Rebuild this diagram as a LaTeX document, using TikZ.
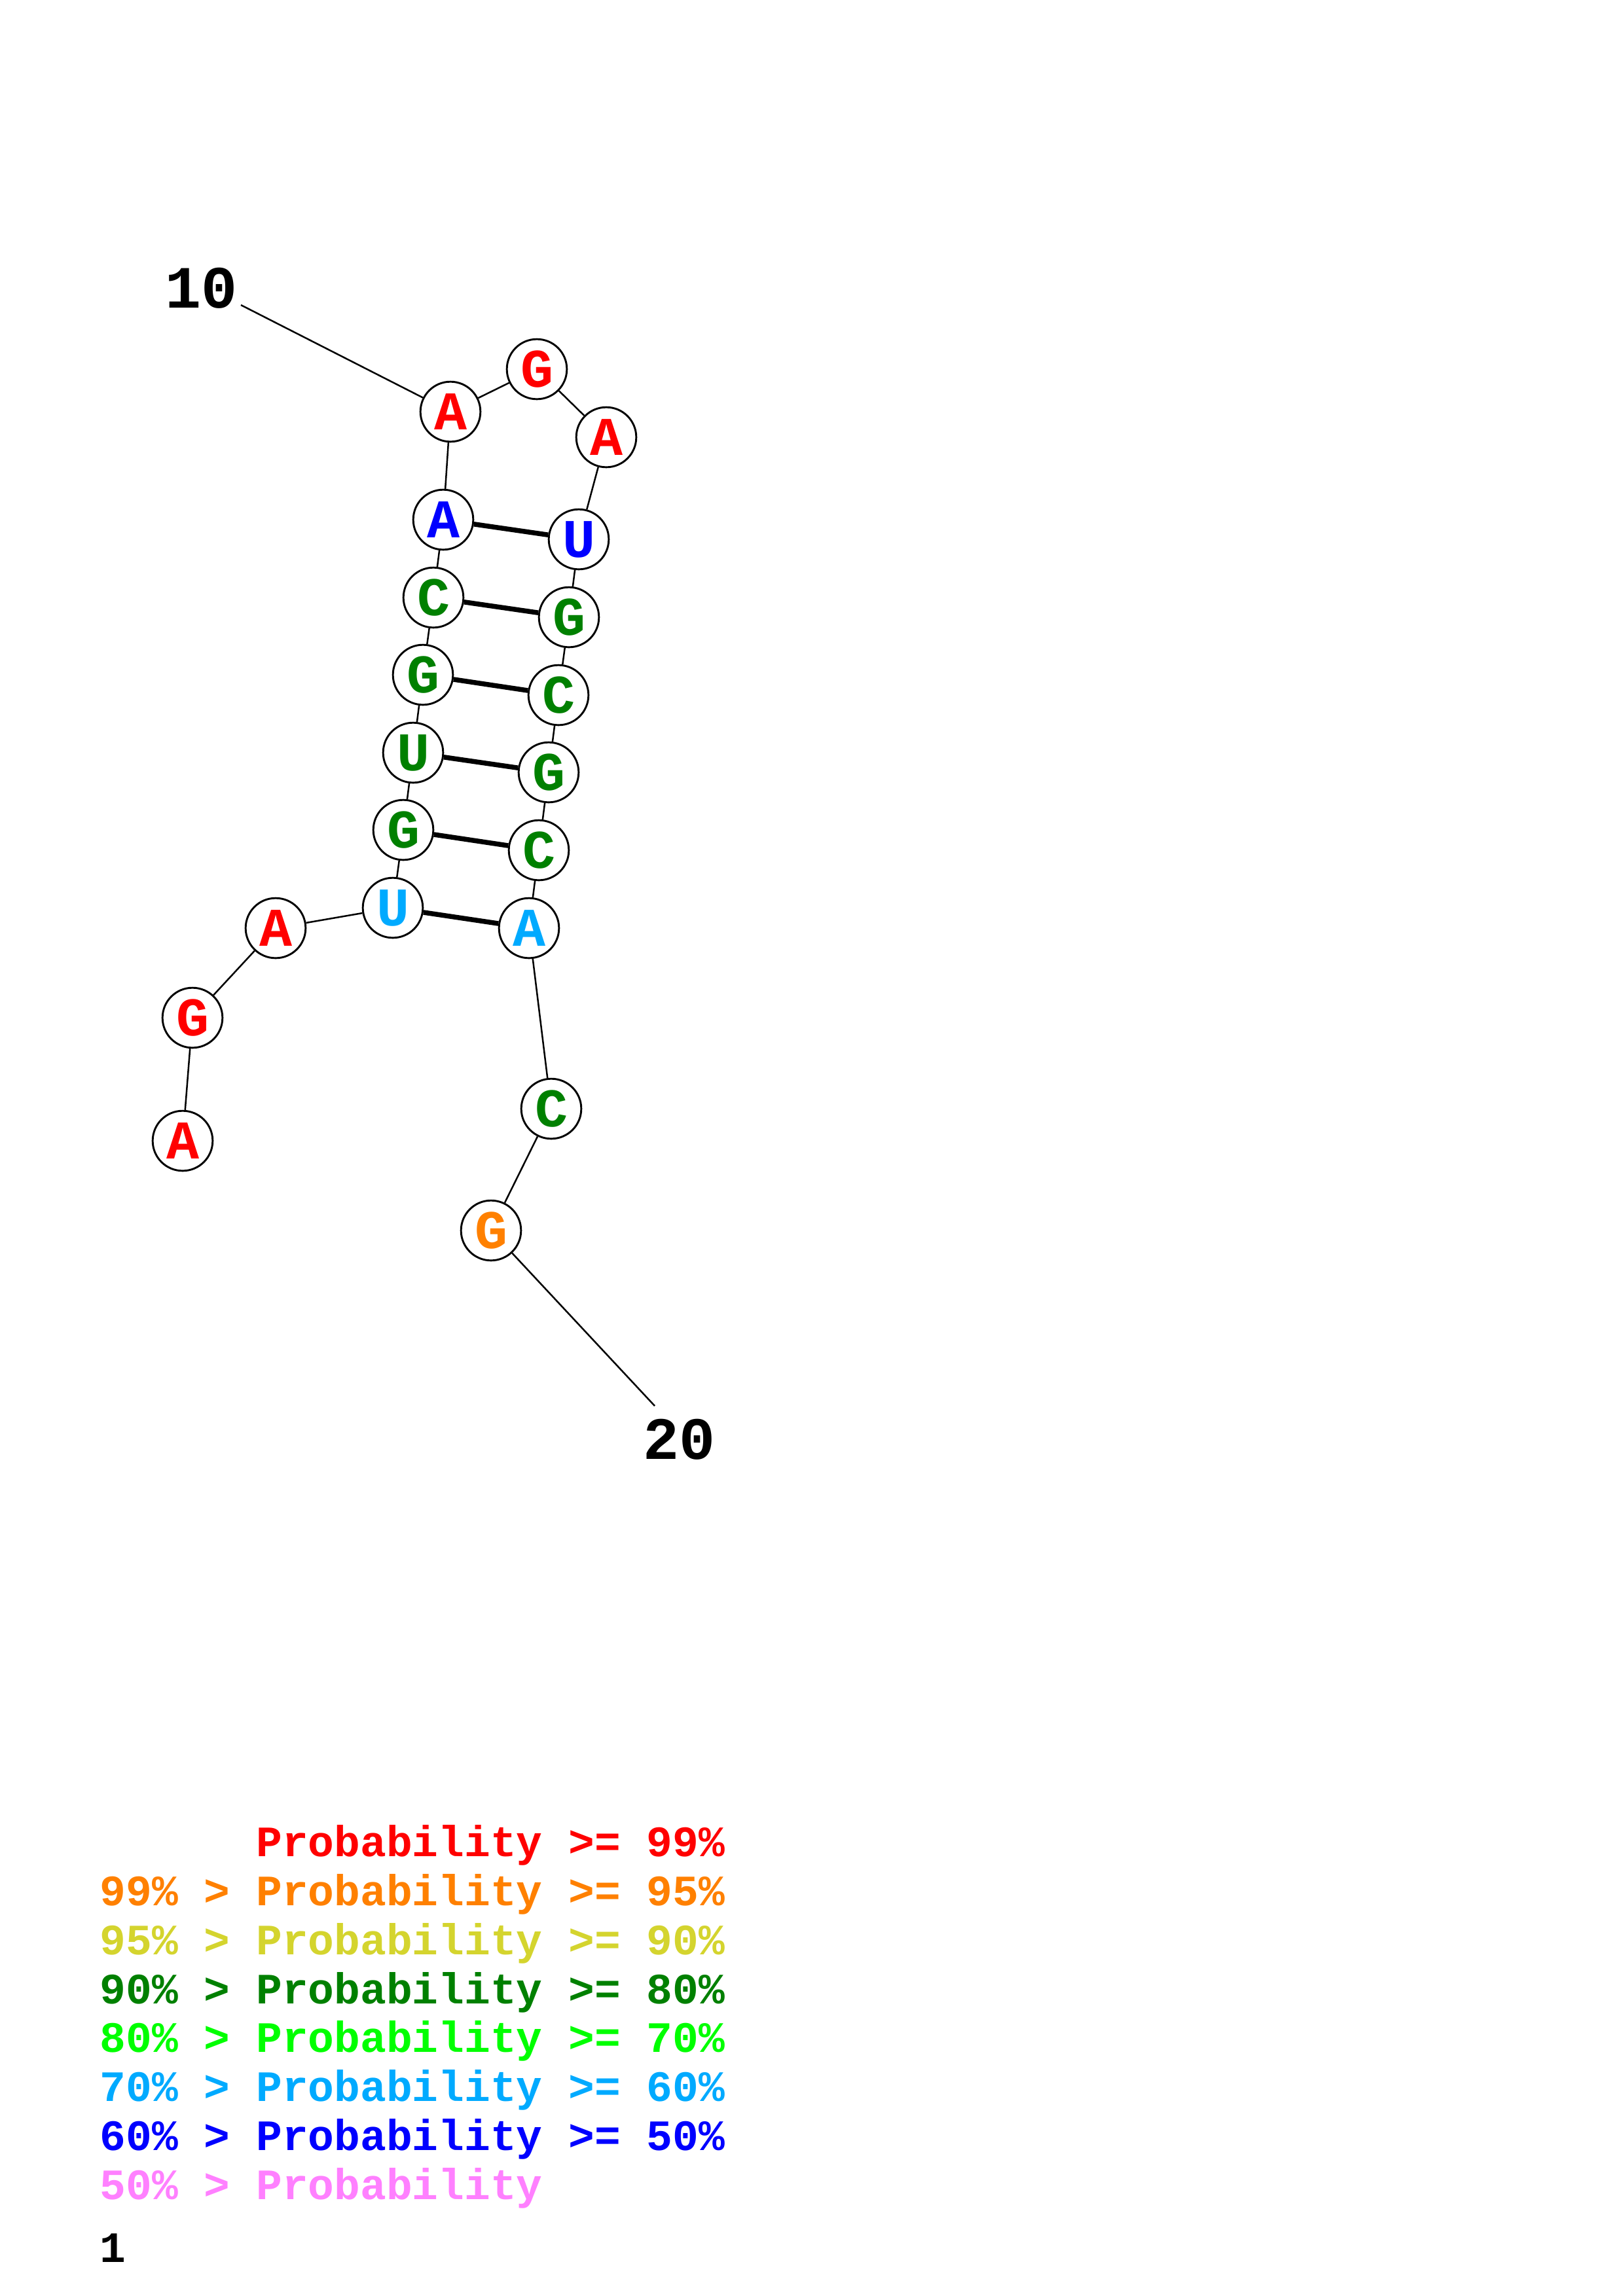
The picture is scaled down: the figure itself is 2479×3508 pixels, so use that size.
\documentclass[tikz,border=0pt]{standalone}
\usepackage{fontspec}
\setmonofont{Liberation Mono}
\definecolor{pred}{RGB}{255,0,0}
\definecolor{porange}{RGB}{255,128,0}
\definecolor{pyellow}{RGB}{212,212,46}
\definecolor{pdkgreen}{RGB}{0,128,0}
\definecolor{pgreen}{RGB}{0,255,0}
\definecolor{plblue}{RGB}{0,170,255}
\definecolor{pblue}{RGB}{0,0,255}
\definecolor{ppink}{RGB}{255,128,255}
\begin{document}
\begin{tikzpicture}[x=0.24002pt,y=-0.24002pt,
  nt/.style={circle,draw=black,line width=0.7pt,fill=white,minimum size=22pt,inner sep=0pt,
    font=\fontsize{20}{20}\selectfont\ttfamily\bfseries},
  bb/.style={line width=0.6pt},
  bp/.style={line width=1.8pt},
  numlab/.style={font=\fontsize{22}{22}\selectfont\ttfamily\bfseries,inner sep=0pt},
  leg/.style={anchor=base west,inner sep=0pt,font=\fontsize{15.9}{16}\selectfont\ttfamily\bfseries}]
\useasboundingbox (0,0) rectangle (2479,3508);
% numbering labels
\node[numlab] (l10) at (308,440) {10};
\node[numlab] (l20) at (1037,2199) {20};
\coordinate (c10) at (368,466);
\coordinate (c20) at (1000,2148);
% nucleotides
\node[nt,text=pred] (n1) at (279,1743) {A};
\node[nt,text=pred] (n2) at (294,1555) {G};
\node[nt,text=pred] (n3) at (421,1418) {A};
\node[nt,text=plblue] (n4) at (600,1387) {U};
\node[nt,text=pdkgreen] (n5) at (616,1268) {G};
\node[nt,text=pdkgreen] (n6) at (631,1150) {U};
\node[nt,text=pdkgreen] (n7) at (646,1031) {G};
\node[nt,text=pdkgreen] (n8) at (662,913) {C};
\node[nt,text=pblue] (n9) at (677,794) {A};
\node[nt,text=pred] (n10) at (688,629) {A};
\node[nt,text=pred] (n11) at (820,564) {G};
\node[nt,text=pred] (n12) at (926,668) {A};
\node[nt,text=pblue] (n13) at (884,824) {U};
\node[nt,text=pdkgreen] (n14) at (869,943) {G};
\node[nt,text=pdkgreen] (n15) at (853,1062) {C};
\node[nt,text=pdkgreen] (n16) at (838,1180) {G};
\node[nt,text=pdkgreen] (n17) at (823,1299) {C};
\node[nt,text=plblue] (n18) at (808,1418) {A};
\node[nt,text=pdkgreen] (n19) at (842,1694) {C};
\node[nt,text=porange] (n20) at (750,1880) {G};
% backbone
\foreach \a/\b in {1/2,2/3,3/4,4/5,5/6,6/7,7/8,8/9,9/10,10/11,11/12,12/13,13/14,14/15,15/16,16/17,17/18,18/19,19/20}
  \draw[bb] (n\a) -- (n\b);
\draw[bb] (c10) -- (n10);
\draw[bb] (n20) -- (c20);
% base pairs
\foreach \a/\b in {4/18,5/17,6/16,7/15,8/14,9/13}
  \draw[bp] (n\a) -- (n\b);
% legend
\node[leg,text=pred] (g1) at (152,2836) {\phantom{99\% > }Probability >= 99\%};
\node[leg,text=porange] (g2) at (152,2911) {99\% > Probability >= 95\%};
\node[leg,text=pyellow] (g3) at (152,2986) {95\% > Probability >= 90\%};
\node[leg,text=pdkgreen] (g4) at (152,3061) {90\% > Probability >= 80\%};
\node[leg,text=pgreen] (g5) at (152,3135) {80\% > Probability >= 70\%};
\node[leg,text=plblue] (g6) at (152,3210) {70\% > Probability >= 60\%};
\node[leg,text=pblue] (g7) at (152,3285) {60\% > Probability >= 50\%};
\node[leg,text=ppink] (g8) at (152,3360) {50\% > Probability};
\node[leg,text=black] (g9) at (152,3456) {1};
\end{tikzpicture}
\end{document}
